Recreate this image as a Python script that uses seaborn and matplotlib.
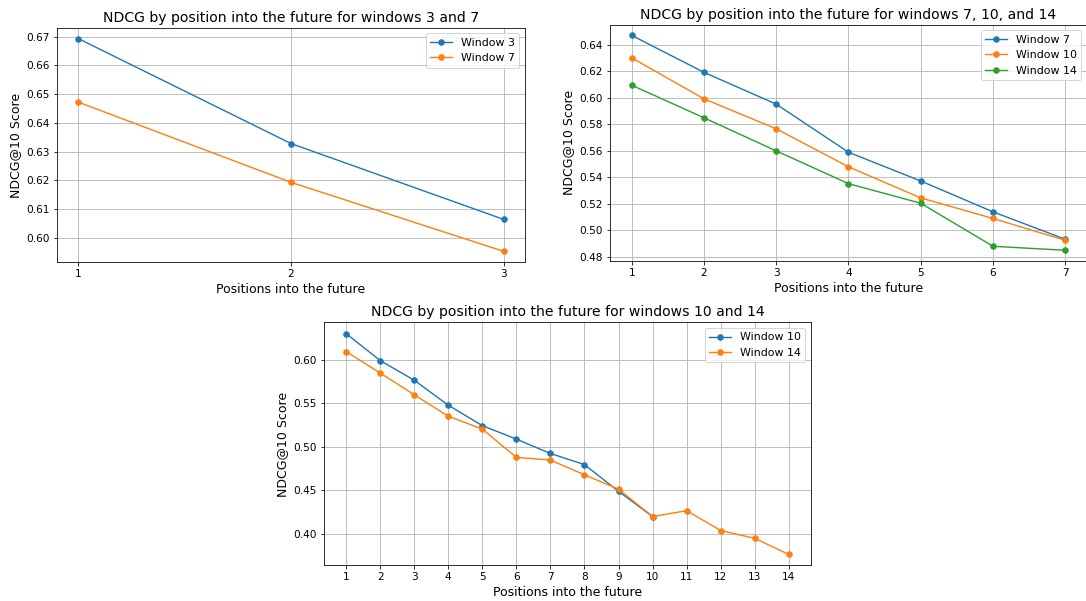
import pandas as pd
import matplotlib.pyplot as plt
import seaborn as sns

# values
pos3 = [1, 2, 3]
w3_short = [0.6693, 0.6328, 0.6064]
w7_short = [0.6472, 0.6193, 0.5953]

pos7 = [1, 2, 3, 4, 5, 6, 7]
w7 = [0.6472, 0.6193, 0.5953, 0.5590, 0.5373, 0.5140, 0.4933]
w10_short = [0.6303, 0.5993, 0.5767, 0.5480, 0.5245, 0.5090, 0.4925]
w14_short = [0.6096, 0.5850, 0.5600, 0.5353, 0.5205, 0.4880, 0.4850]

pos10 = [1, 2, 3, 4, 5, 6, 7, 8, 9, 10]
w10 = [0.6303, 0.5993, 0.5767, 0.5480, 0.5245, 0.5090, 0.4925, 0.4797, 0.4490, 0.4200]
pos14 = [1, 2, 3, 4, 5, 6, 7, 8, 9, 10, 11, 12, 13, 14]
w14 = [0.6096, 0.5850, 0.5600, 0.5353, 0.5205, 0.4880, 0.4850, 0.4680, 0.4515, 0.4200,
       0.4268, 0.4040, 0.3950, 0.3765]

blue, orange, green = "#1f77b4", "#ff7f0e", "#2ca02c"

fig = plt.figure(figsize=(1086 / 72, 601 / 72), dpi=72)
ax1 = fig.add_axes([0.0525, 0.5641, 0.4309, 0.3894])
ax2 = fig.add_axes([0.5617, 0.5657, 0.4392, 0.3933])
ax3 = fig.add_axes([0.2983, 0.0591, 0.4484, 0.4043])


def draw(ax, x, y, label, color):
    sns.lineplot(x=x, y=y, ax=ax, label=label, color=color, marker="o",
                 markersize=5.5, markeredgecolor=color, markeredgewidth=1, linewidth=1.4)


# -------- windows 3 and 7 --------
draw(ax1, pos3, w3_short, "Window 3", blue)
draw(ax1, pos3, w7_short, "Window 7", orange)
ax1.set_xticks(pos3)
ax1.set_title("NDCG by position into the future for windows 3 and 7", fontsize=14)

# -------- windows 7, 10, 14 --------
draw(ax2, pos7, w7, "Window 7", blue)
draw(ax2, pos7, w10_short, "Window 10", orange)
draw(ax2, pos7, w14_short, "Window 14", green)
ax2.set_xticks(pos7)
ax2.set_title("NDCG by position into the future for windows 7, 10, and 14", fontsize=14)

# -------- windows 10 and 14 --------
draw(ax3, pos10, w10, "Window 10", blue)
draw(ax3, pos14, w14, "Window 14", orange)
ax3.set_xticks(pos14)
ax3.set_title("NDCG by position into the future for windows 10 and 14", fontsize=14)

for ax in (ax1, ax2, ax3):
    ax.set_xlabel("Positions into the future", fontsize=12.5)
    ax.set_ylabel("NDCG@10 Score", fontsize=12.5)
    ax.tick_params(labelsize=10.5)
    ax.grid(True)
    ax.legend(loc="upper right", fontsize=11)

fig.savefig("out.png", dpi=72)
plt.close()
